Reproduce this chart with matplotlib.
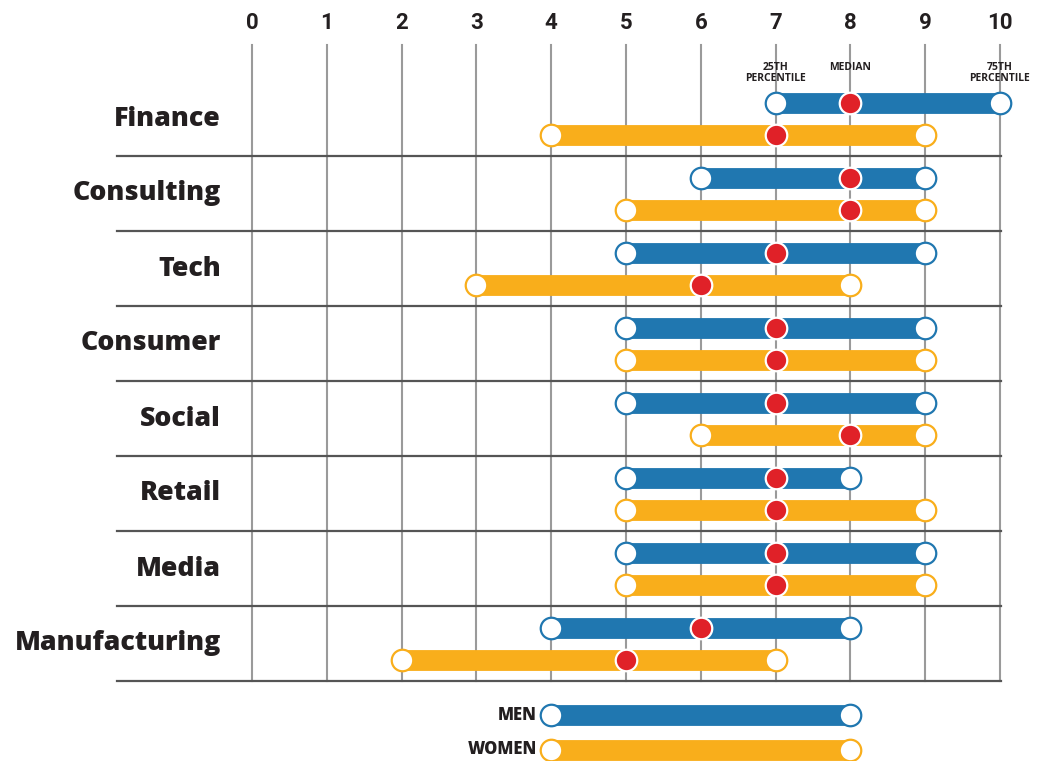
import numpy as np
import matplotlib.pyplot as plt

plt.rcParams['font.family'] = ['Open Sans', 'DejaVu Sans']

# data
categories = ['Finance', 'Consulting', 'Tech', 'Consumer', 'Social', 'Retail', 'Media', 'Manufacturing']
men_q1 = [7, 6, 5, 5, 5, 5, 5, 4]
men_med = [8, 8, 7, 7, 7, 7, 7, 6]
men_q3 = [10, 9, 9, 9, 9, 8, 9, 8]
women_q1 = [4, 5, 3, 5, 6, 5, 5, 2]
women_med = [7, 8, 6, 7, 8, 7, 7, 5]
women_q3 = [9, 9, 8, 9, 9, 9, 9, 7]
ticks = list(range(0, 11))

BLUE = '#2077b0'
ORANGE = '#f9ae1b'
RED = '#e02128'
TXT = '#231f20'

fig = plt.figure(figsize=(10.47, 7.61), dpi=100)
ax = fig.add_axes([0, 0, 1, 1])
# x in data units, y in pixel-like units (top = 0)
px = 74.8
ax.set_xlim(-252 / px, (1047 - 252) / px)
ax.set_ylim(761, 0)
ax.axis('off')

# vertical grid + tick labels
for t in ticks:
    ax.plot([t, t], [45, 681], color='#9a9a9a', lw=1.5, zorder=1)
    ax.text(t, 23, str(t), ha='center', va='center', fontsize=16,
            fontweight='bold', color=TXT, family=['Roboto', 'DejaVu Sans'],
            fontstretch='condensed')

centers = 118.5 + 75 * np.arange(len(categories))
off = 16
x_left = (117 - 252) / px
x_right = (1001 - 252) / px


def draw_row(y, q1, med, q3, color):
    ax.plot([q1, q3], [y, y], color=color, lw=15, solid_capstyle='butt', zorder=2)
    ax.plot([q1, q3], [y, y], 'o', ms=15.5, mfc='white', mec=color, mew=1.6,
            ls='none', zorder=3)
    if med is not None:
        ax.plot([med], [y], 'o', ms=15.5, mfc=RED, mec='white', mew=1.6, zorder=4)


for i, cat in enumerate(categories):
    c = centers[i]
    draw_row(c - off, men_q1[i], men_med[i], men_q3[i], BLUE)
    draw_row(c + off, women_q1[i], women_med[i], women_q3[i], ORANGE)
    ax.text((221 - 252) / px, c, cat, ha='right', va='center', fontsize=19.3,
            fontweight=800, color=TXT)
    ax.plot([x_left, x_right], [c + 37.5, c + 37.5], color='#555555', lw=1.6, zorder=1)

# annotations above Finance men
ax.text(men_q1[0], 73, '25TH\nPERCENTILE', ha='center', va='center', fontsize=7.5,
        fontweight='bold', color=TXT, linespacing=1.05)
ax.text(men_med[0], 67, 'MEDIAN', ha='center', va='center', fontsize=7.5,
        fontweight='bold', color=TXT)
ax.text(men_q3[0], 73, '75TH\nPERCENTILE', ha='center', va='center', fontsize=7.5,
        fontweight='bold', color=TXT, linespacing=1.05)

# legend
draw_row(715, 4, None, 8, BLUE)
draw_row(750, 4, None, 8, ORANGE)
ax.text((537 - 252) / px, 715, 'MEN', ha='right', va='center', fontsize=12,
        fontweight=800, color=TXT)
ax.text((537 - 252) / px, 750, 'WOMEN', ha='right', va='center', fontsize=12,
        fontweight=800, color=TXT)

fig.savefig('out.png', dpi=100)
